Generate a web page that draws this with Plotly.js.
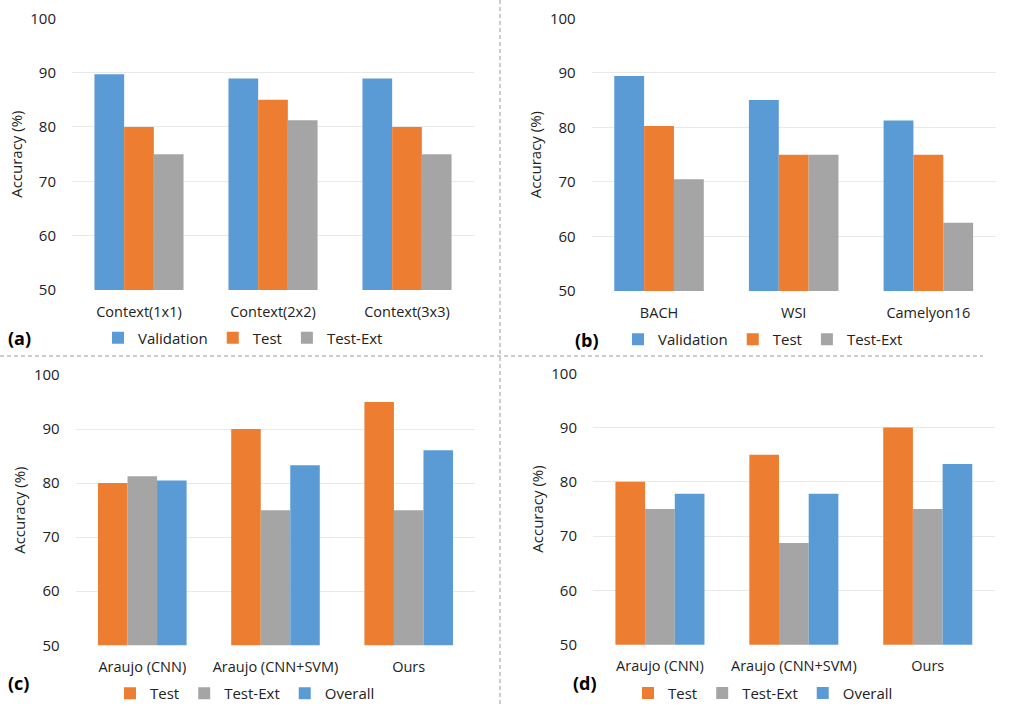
<!DOCTYPE html>
<html>
<head>
<meta charset="utf-8">
<script src="https://cdn.plot.ly/plotly-3.0.1.min.js"></script>
<style>html,body{margin:0;padding:0;background:#fff;}#chart{width:1009px;height:711px;}</style>
</head>
<body>
<div id="chart"></div>
<script>
// ---- data ----
const catsA = ["Context(1x1)", "Context(2x2)", "Context(3x3)"];
const valA = [89.7, 88.9, 88.9];
const testA = [80, 85, 80];
const extA = [75, 81.25, 75];

const catsB = ["BACH", "WSI", "Camelyon16"];
const valB = [89.4, 85, 81.25];
const testB = [80.25, 75, 75];
const extB = [70.5, 75, 62.5];

const catsC = ["Araujo (CNN)", "Araujo (CNN+SVM)", "Ours"];
const testC = [80, 90, 95];
const extC = [81.25, 75, 75];
const overallC = [80.5, 83.3, 86.1];

const catsD = ["Araujo (CNN)", "Araujo (CNN+SVM)", "Ours"];
const testD = [80, 85, 90];
const extD = [75, 68.75, 75];
const overallD = [77.8, 77.8, 83.3];

const yTicks = [50, 60, 70, 80, 90, 100];
const panelLabels = ["(a)", "(b)", "(c)", "(d)"];

// ---- styles ----
const BLUE = "#5B9BD5", ORANGE = "#ED7D31", GRAY = "#A5A5A5";
const FONT = "Open Sans, Liberation Sans, sans-serif";
const W = 1009, H = 711;

function bar(name, x, y, color, ax, leg) {
  return {type: "bar", name: name, x: x, y: y, marker: {color: color},
    xaxis: "x" + ax, yaxis: "y" + ax, legend: leg, hoverinfo: "x+y+name"};
}

const traces = [
  bar("Validation", catsA, valA, BLUE, "", "legend"),
  bar("Test", catsA, testA, ORANGE, "", "legend"),
  bar("Test-Ext", catsA, extA, GRAY, "", "legend"),
  bar("Validation", catsB, valB, BLUE, "2", "legend2"),
  bar("Test", catsB, testB, ORANGE, "2", "legend2"),
  bar("Test-Ext", catsB, extB, GRAY, "2", "legend2"),
  bar("Test", catsC, testC, ORANGE, "3", "legend3"),
  bar("Test-Ext", catsC, extC, GRAY, "3", "legend3"),
  bar("Overall", catsC, overallC, BLUE, "3", "legend3"),
  bar("Test", catsD, testD, ORANGE, "4", "legend4"),
  bar("Test-Ext", catsD, extD, GRAY, "4", "legend4"),
  bar("Overall", catsD, overallD, BLUE, "4", "legend4")
];

function px(x){return x / W;}
function py(y){return 1 - y / H;}

function xax(x0, x1, anchor) {
  return {domain: [px(x0), px(x1)], anchor: anchor, showgrid: false, zeroline: false,
    showline: false, ticks: "", ticklabelstandoff: 11,
    tickfont: {family: FONT, size: 14.5, color: "#222"}, fixedrange: true};
}
function yax(y0, y1, anchor) {
  return {domain: [py(y1), py(y0)], anchor: anchor, range: [50, 100],
    tickmode: "array", tickvals: yTicks, ticktext: yTicks.map(String),
    showgrid: true, gridcolor: "#e9e9e9", gridwidth: 1, zeroline: false, showline: false,
    ticks: "", ticklabelstandoff: 15,
    tickfont: {family: FONT, size: 15, color: "#222"},
    title: {text: "Accuracy (%)", font: {family: FONT, size: 15, color: "#222"}, standoff: 4},
    fixedrange: true};
}

function legend(xc, yc) {
  return {orientation: "h", x: px(xc), y: py(yc), xanchor: "center", yanchor: "middle",
    font: {family: FONT, size: 15, color: "#222"}, bgcolor: "rgba(0,0,0,0)",
    itemclick: false, itemdoubleclick: false, tracegroupgap: 0, itemwidth: 30};
}

const labelPos = [[19, 338], [587, 339.5], [18, 683], [585, 683]];
const annotations = panelLabels.map((t, i) => ({
  text: "<b>" + t + "</b>", xref: "paper", yref: "paper",
  x: px(labelPos[i][0]), y: py(labelPos[i][1]), xanchor: "center", yanchor: "middle",
  showarrow: false, font: {family: FONT, size: 18, color: "#000"}
}));

const dashStyle = {color: "#9a9a9a", width: 1, dash: "4px,3px"};
const shapes = [
  {type: "line", xref: "paper", yref: "paper", x0: px(500), x1: px(500), y0: py(0), y1: py(706), line: dashStyle},
  {type: "line", xref: "paper", yref: "paper", x0: px(0), x1: px(983), y0: py(356), y1: py(356), line: dashStyle}
];

const layout = {
  width: W, height: H,
  margin: {l: 0, r: 0, t: 0, b: 0},
  paper_bgcolor: "#fff", plot_bgcolor: "#fff",
  barmode: "group", bargap: 0.335, bargroupgap: 0,
  showlegend: true,
  xaxis: xax(72, 474, "y"), yaxis: yax(18.3, 290, "x"),
  xaxis2: xax(591.7, 995.7, "y2"), yaxis2: yax(18.3, 291, "x2"),
  xaxis3: xax(75.7, 475.3, "y3"), yaxis3: yax(375, 645.3, "x3"),
  xaxis4: xax(593, 994.7, "y4"), yaxis4: yax(373.3, 644.7, "x4"),
  legend: legend(243, 338),
  legend2: legend(763, 339.5),
  legend3: legend(245, 693.5),
  legend4: legend(763, 693.3),
  annotations: annotations,
  shapes: shapes
};

Plotly.newPlot("chart", traces, layout, {displayModeBar: false, staticPlot: false});
</script>
</body>
</html>
